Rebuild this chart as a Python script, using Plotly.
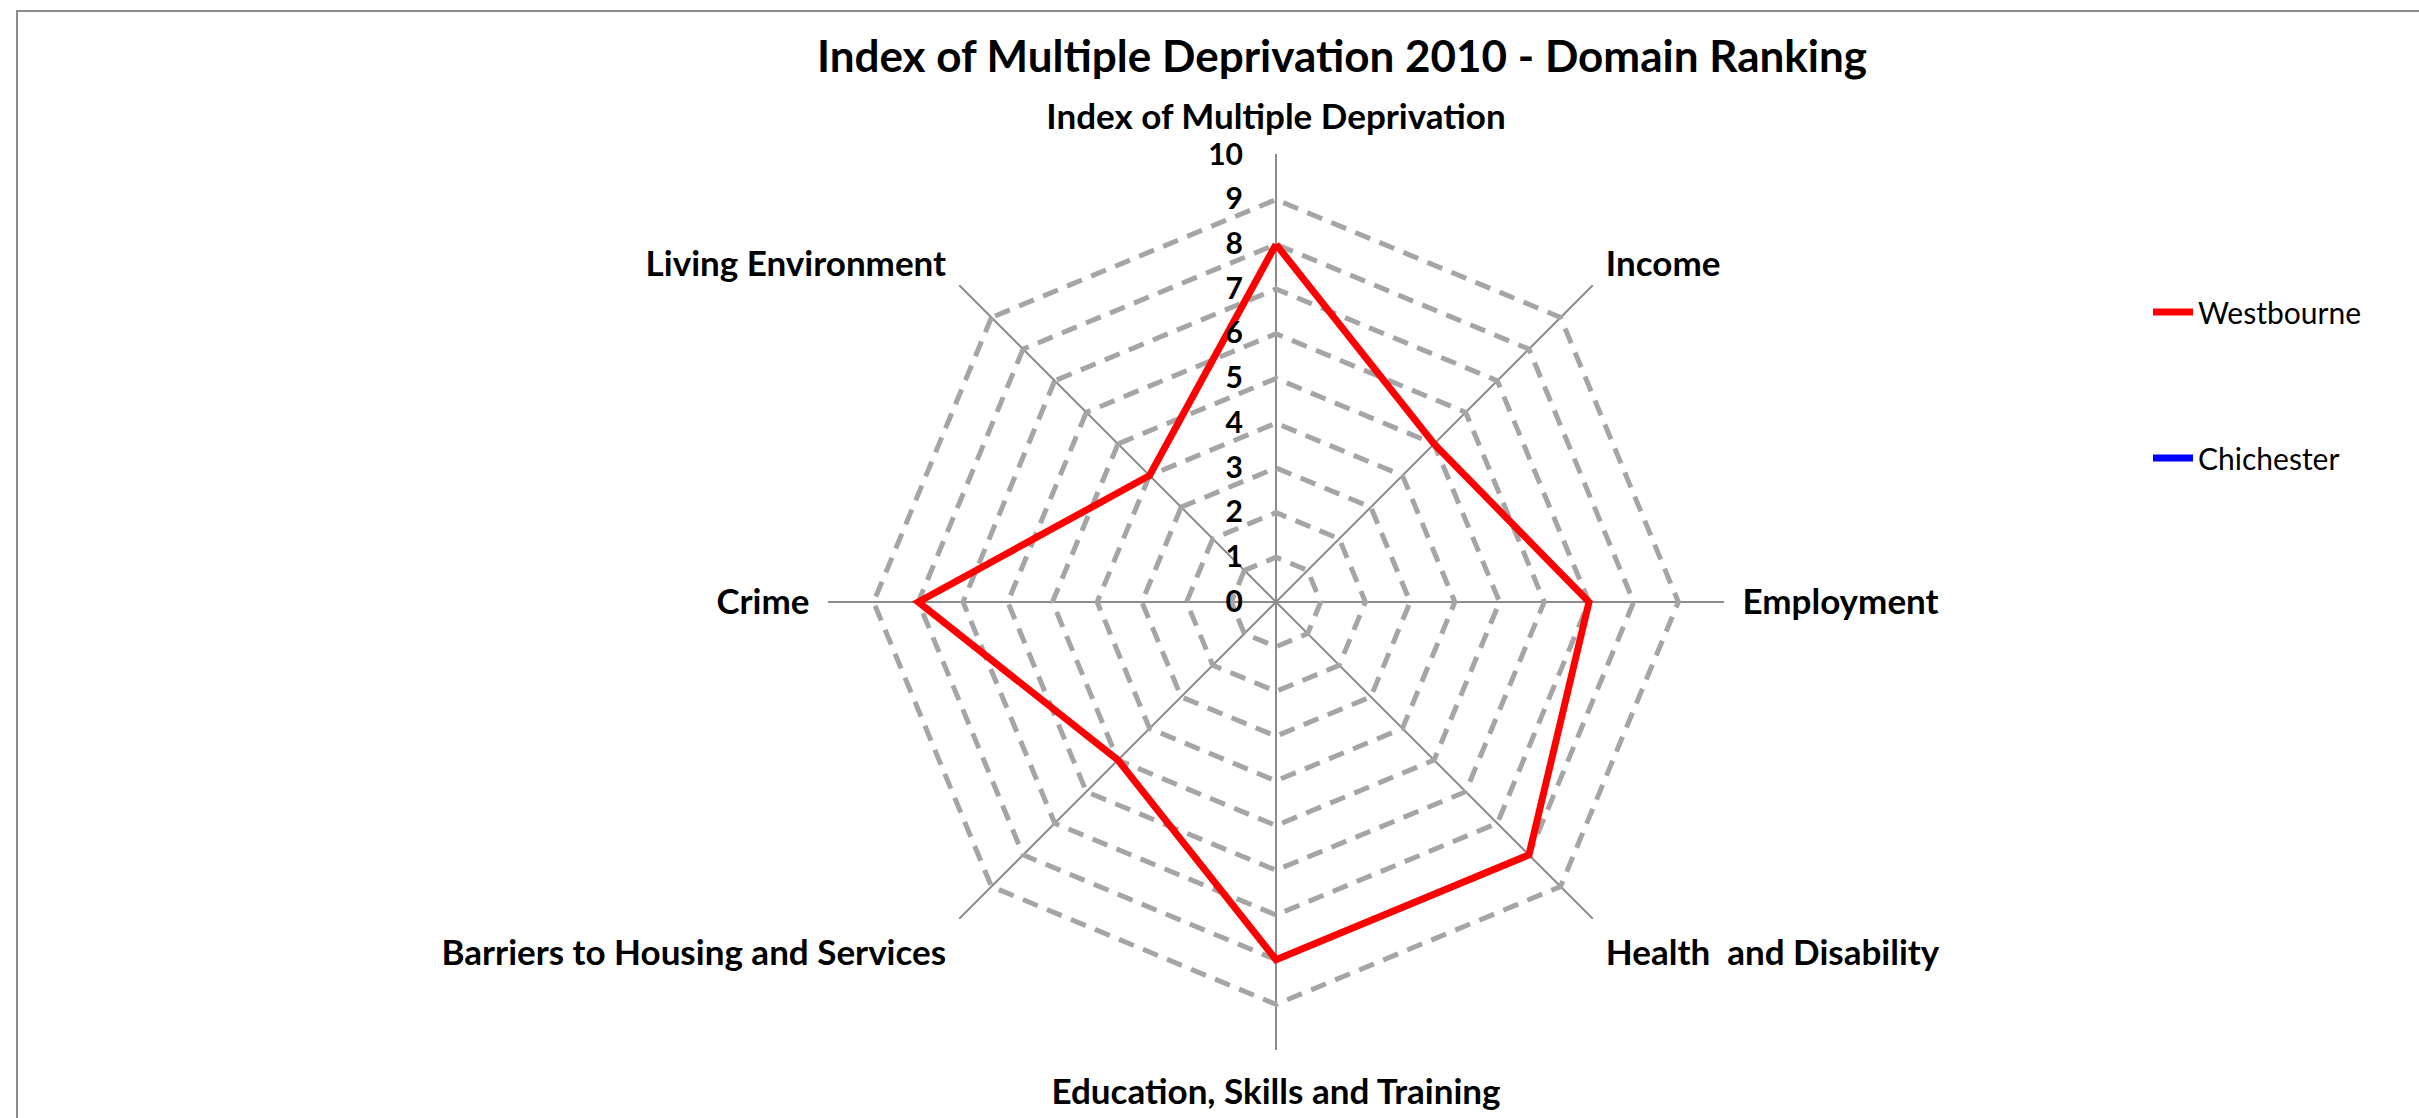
import plotly.graph_objects as go

# Domains of the Index of Multiple Deprivation 2010 (clockwise from top)
domains = [
    "Index of Multiple Deprivation",
    "Income",
    "Employment",
    "Health  and Disability",
    "Education, Skills and Training",
    "Barriers to Housing and Services",
    "Crime",
    "Living Environment",
]
westbourne = [8, 5, 7, 8, 8, 5, 8, 4]
chichester = [None] * len(domains)
radial_ticks = list(range(0, 11))

W, H = 2419, 1118
cx, cy, R = 1276, 602, 448

FONT = "Lato"

def closed(vals):
    return vals + vals[:1]

fig = go.Figure()
fig.add_trace(go.Scatterpolar(
    r=closed(westbourne), theta=closed(domains), mode="lines",
    name="Westbourne", line=dict(color="#ff0000", width=7),
    legend="legend", showlegend=True,
))
fig.add_trace(go.Scatterpolar(
    r=closed(chichester), theta=closed(domains), mode="lines",
    name="Chichester", line=dict(color="#0000ff", width=7),
    legend="legend2", showlegend=True,
))

fig.update_layout(
    width=W, height=H,
    margin=dict(l=0, r=0, t=0, b=0),
    paper_bgcolor="white",
    showlegend=True,
    title=dict(
        text="<b>Index of Multiple Deprivation 2010 - Domain Ranking</b>",
        x=(813 + 1871) / 2 / W, xanchor="center",
        y=1 - 57 / H, yanchor="middle",
        font=dict(family=FONT, size=44, color="black"),
    ),
    polar=dict(
        domain=dict(x=[(cx - R) / W, (cx + R) / W],
                    y=[1 - (cy + R) / H, 1 - (cy - R) / H]),
        gridshape="linear",
        bgcolor="white",
        radialaxis=dict(
            range=[0, 10.02], tickvals=radial_ticks,
            ticktext=[f"<b>{t}</b>" for t in radial_ticks],
            angle=90, tickangle=90, side="counterclockwise",
            showline=False, ticks="outside", ticklen=22,
            tickcolor="rgba(0,0,0,0)",
            gridcolor="#a5a5a5", gridwidth=4.5, griddash="16px,10px",
            tickfont=dict(family=FONT, size=30, color="black"),
        ),
        angularaxis=dict(
            direction="clockwise", rotation=90,
            showline=False, ticks="outside", ticklen=11,
            tickcolor="rgba(0,0,0,0)",
            gridcolor="#8c8c8c", gridwidth=1.6,
            tickfont=dict(family=FONT, size=35, color="black"),
            categoryarray=domains, categoryorder="array",
            tickvals=domains,
            ticktext=[f"<b>{d}</b>" for d in domains],
        ),
    ),
    legend=dict(
        x=2148 / W, y=1 - 312 / H, xanchor="left", yanchor="middle",
        font=dict(family=FONT, size=30, color="black"),
        bgcolor="rgba(0,0,0,0)", itemwidth=40,
    ),
    legend2=dict(
        x=2148 / W, y=1 - 458 / H, xanchor="left", yanchor="middle",
        font=dict(family=FONT, size=30, color="black"),
        bgcolor="rgba(0,0,0,0)", itemwidth=40,
    ),
    shapes=[dict(
        type="rect", xref="paper", yref="paper",
        x0=17 / W, x1=1.01, y0=-0.01, y1=1 - 11 / H,
        line=dict(color="#8c8c8c", width=2),
    )],
)

fig.write_html("out.html")
